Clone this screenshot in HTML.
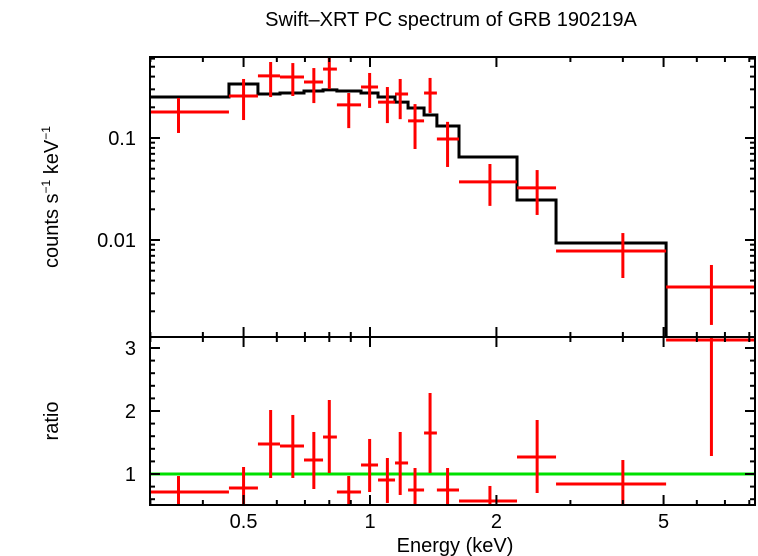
<!DOCTYPE html>
<html><head><meta charset="utf-8">
<style>
html,body{margin:0;padding:0;background:#fff;}
svg{display:block;font-family:"Liberation Sans",sans-serif;}
</style></head>
<body>
<svg id="chart" width="758" height="556" viewBox="0 0 758 556">
<text x="451" y="26" font-size="20" text-anchor="middle">Swift–XRT PC spectrum of GRB 190219A</text>
<text x="455" y="552" font-size="20" text-anchor="middle">Energy (keV)</text>
<text transform="translate(58,197) rotate(-90)" font-size="20" text-anchor="middle">counts s<tspan font-size="12" dy="-8">−1</tspan><tspan dy="8"> keV</tspan><tspan font-size="12" dy="-8">−1</tspan></text>
<text transform="translate(58,421) rotate(-90)" font-size="20" text-anchor="middle">ratio</text>
<g id="layer"></g>
</svg>
<script>
const binLo=[0.2994,0.4615,0.541,0.6105,0.6964,0.773,0.834,0.952,1.045,1.147,1.232,1.345,1.443,1.629,2.239,2.773,5.07];
const binHi=[0.4615,0.541,0.6105,0.6964,0.773,0.834,0.952,1.045,1.147,1.232,1.345,1.443,1.629,2.239,2.773,5.07,8.25];
const binCen=[0.35,0.5,0.58,0.655,0.735,0.8,0.89,0.998,1.1,1.18,1.28,1.39,1.53,1.93,2.5,4.0,6.5];
const counts=[0.180,0.258,0.406,0.396,0.354,0.474,0.211,0.316,0.225,0.270,0.147,0.276,0.0978,0.0371,0.0324,0.0078,0.00346];
const countsHi=[0.247,0.379,0.556,0.543,0.485,0.652,0.276,0.434,0.316,0.379,0.215,0.388,0.144,0.0556,0.0485,0.0117,0.00569];
const countsLo=[0.112,0.150,0.252,0.258,0.220,0.302,0.125,0.197,0.140,0.153,0.078,0.176,0.052,0.0216,0.0176,0.00424,0.00147];
const model=[0.252,0.338,0.270,0.276,0.289,0.296,0.289,0.276,0.252,0.225,0.197,0.168,0.131,0.0652,0.0247,0.00935,0.0008];
const ratio=[0.714,0.778,1.476,1.444,1.222,1.587,0.714,1.143,0.905,1.175,0.746,1.651,0.746,0.571,1.270,0.841,3.127];
const ratioHi=[0.968,1.111,2.016,1.937,1.667,2.175,0.968,1.556,1.254,1.667,1.095,2.286,1.095,0.810,1.857,1.222,3.16];
const ratioLo=[0.476,0.476,0.937,0.937,0.762,1.016,0.476,0.714,0.540,0.667,0.476,1.016,0.476,0.43,0.698,0.43,1.286];
const xTicks=[0.5,1,2,5];
const yTopTicks=[0.1,0.01];
const yTopLabels=["0.1","0.01"];
const yBotTicks=[1,2,3];

const L=150,R=755,T=57,M=337,B=505;
const xs=e=>370+420*Math.log10(e);
const yt=v=>138-102*(Math.log10(v)+1);
const yb=r=>474-63*(r-1);
const NS="http://www.w3.org/2000/svg";
const layer=document.getElementById('layer');
function mk(tag,attrs,parent){const el=document.createElementNS(NS,tag);for(const k in attrs)el.setAttribute(k,attrs[k]);(parent||layer).appendChild(el);return el;}
const defs=mk('defs',{});
const c1=mk('clipPath',{id:'ct'},defs);mk('rect',{x:L,y:T,width:R-L,height:M-T},c1);
const c2=mk('clipPath',{id:'cb'},defs);mk('rect',{x:L,y:M,width:R-L,height:B-M},c2);
const gTop=mk('g',{'clip-path':'url(#ct)'});


const gBot=mk('g',{'clip-path':'url(#cb)'});



let d='';
for(let i=0;i<model.length;i++){
  const y=yt(model[i]);
  d+=(i===0?'M':'L')+xs(binLo[i])+','+y+' L'+xs(binHi[i])+','+y+' ';
}
const mp=mk('path',{d:d,fill:'none',stroke:'#000','stroke-width':3},gTop);



const gl=mk('line',{x1:L,x2:R,y1:yb(1),y2:yb(1),stroke:'#00e000','stroke-width':3},gBot);



for(let i=0;i<counts.length;i++){
  const g=mk('g',{stroke:'#ff0000','stroke-width':3},gTop);
  
  
  mk('line',{x1:xs(binLo[i]),x2:xs(binHi[i]),y1:yt(counts[i]),y2:yt(counts[i])},g);
  mk('line',{x1:xs(binCen[i]),x2:xs(binCen[i]),y1:yt(countsHi[i]),y2:yt(countsLo[i])},g);
  const h=mk('g',{stroke:'#ff0000','stroke-width':3},gBot);
  
  
  mk('line',{x1:xs(binLo[i]),x2:xs(binHi[i]),y1:yb(ratio[i]),y2:yb(ratio[i])},h);
  mk('line',{x1:xs(binCen[i]),x2:xs(binCen[i]),y1:yb(ratioHi[i]),y2:yb(ratioLo[i])},h);
}

const f1=mk('rect',{x:L,y:T,width:R-L,height:M-T,fill:'none',stroke:'#000','stroke-width':2});


const f2=mk('rect',{x:L,y:M,width:R-L,height:B-M,fill:'none',stroke:'#000','stroke-width':2});



const tk=mk('g',{stroke:'#000','stroke-width':2});


const minorX=[0.3,0.4,0.6,0.7,0.8,0.9,3,4,6,7,8];
[[T,1],[M,1],[M,-1],[B,-1]].forEach(([y,dir])=>{
  minorX.forEach(e=>mk('line',{x1:xs(e),x2:xs(e),y1:y,y2:y+dir*5},tk));
  xTicks.forEach(e=>mk('line',{x1:xs(e),x2:xs(e),y1:y,y2:y+dir*10},tk));
});
[0.001,0.01,0.1].forEach(dec=>{
  for(let k=1;k<10;k++){
    const v=dec*k, y=yt(v);
    if(y<T||y>M) continue;
    const len=k===1?10:5;
    mk('line',{x1:L,x2:L+len,y1:y,y2:y},tk);
    mk('line',{x1:R,x2:R-len,y1:y,y2:y},tk);
  }
});
for(let r=0.6;r<=3.15;r+=0.2){
  const y=yb(r); const maj=Math.abs(r-Math.round(r))<0.01;
  const len=maj?10:5;
  mk('line',{x1:L,x2:L+len,y1:y,y2:y},tk);
  mk('line',{x1:R,x2:R-len,y1:y,y2:y},tk);
}
xTicks.forEach(e=>{const t=mk('text',{x:xs(e),y:528,'font-size':20,'text-anchor':'middle'});t.textContent=String(e);

});
yTopTicks.forEach((v,i)=>{const t=mk('text',{x:136,y:yt(v)+7,'font-size':20,'text-anchor':'end'});t.textContent=yTopLabels[i];

});
yBotTicks.forEach(v=>{const t=mk('text',{x:136,y:yb(v)+7,'font-size':20,'text-anchor':'end'});t.textContent=String(v);

});
</script>
</body></html>
